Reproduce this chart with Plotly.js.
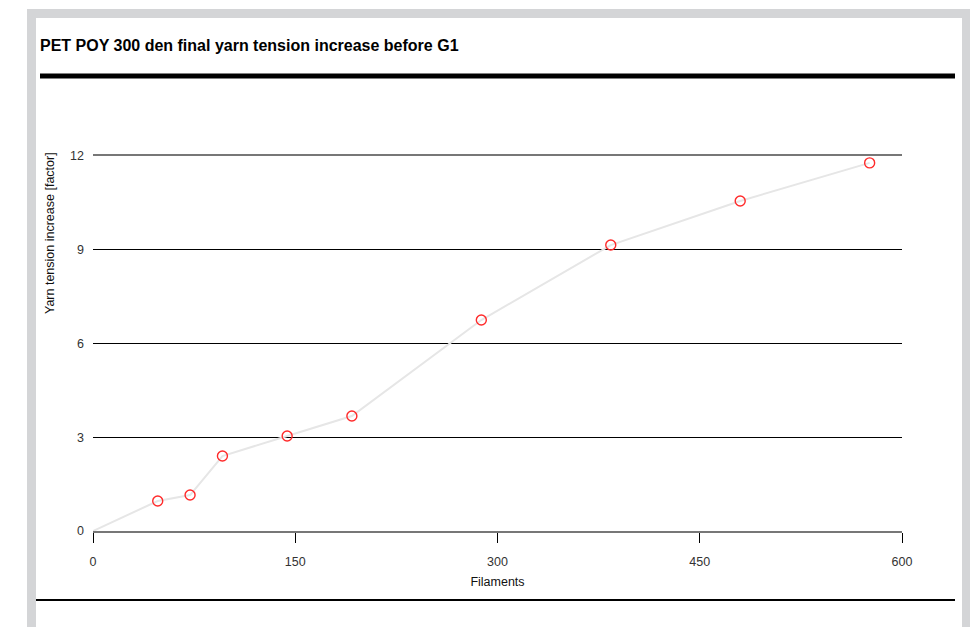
<!DOCTYPE html>
<html><head><meta charset="utf-8">
<script src="https://cdn.plot.ly/plotly-3.0.1.min.js"></script>
<style>html,body{margin:0;padding:0;background:#fff;}#chart{width:976px;height:627px;}</style>
</head><body><div id="chart"></div>
<script>
// Data
const filaments = [48, 72, 96, 144, 192, 288, 384, 480, 576];
const tensionIncrease = [0.96, 1.15, 2.4, 3.04, 3.68, 6.75, 9.15, 10.56, 11.78];
const originX = [0];
const originY = [0];
const xTicks = [0, 150, 300, 450, 600];
const yTicks = [0, 3, 6, 9, 12];
const titleText = 'PET POY 300 den final yarn tension increase before G1';
const xTitle = 'Filaments';
const yTitle = 'Yarn tension increase [factor]';

const W = 976, H = 627;
const M = {l: 93, r: 74, t: 156, b: 96};
const PW = W - M.l - M.r, PH = H - M.t - M.b;
const px = x => (x - M.l) / PW;
const py = y => (H - M.b - y) / PH;

const font = 'Helvetica Neue, Arial, Liberation Sans, sans-serif';

const traces = [
  {x: originX.concat(filaments), y: originY.concat(tensionIncrease), mode: 'lines',
   line: {color: '#e6e6e6', width: 2}, hoverinfo: 'skip', showlegend: false},
  {x: filaments, y: tensionIncrease, mode: 'markers',
   marker: {symbol: 'circle-open', size: 10, color: '#ff2a2a', line: {width: 1.4}},
   showlegend: false}
];

const shapes = [
  {type: 'rect', xref: 'paper', yref: 'paper', x0: px(27), x1: px(970), y0: py(640), y1: py(9),
   fillcolor: '#d4d5d7', line: {width: 0}, layer: 'below'},
  {type: 'rect', xref: 'paper', yref: 'paper', x0: px(36), x1: px(962), y0: py(640), y1: py(18),
   fillcolor: '#ffffff', line: {width: 0}, layer: 'below'},
  {type: 'line', xref: 'paper', yref: 'paper', x0: px(40), x1: px(955), y0: py(76), y1: py(76),
   line: {color: '#000', width: 5}},
  {type: 'line', xref: 'paper', yref: 'paper', x0: px(36), x1: px(955), y0: py(600), y1: py(600),
   line: {color: '#000', width: 2}}
];

const layout = {
  width: W, height: H,
  margin: M,
  paper_bgcolor: '#fff', plot_bgcolor: 'rgba(0,0,0,0)',
  font: {family: font, size: 12, color: '#333'},
  title: {text: '<b>' + titleText + '</b>', xref: 'container', yref: 'container',
          x: 40 / W, xanchor: 'left', y: 1 - 45 / H, yanchor: 'middle',
          font: {family: font, size: 16, color: '#000'}},
  xaxis: {range: [0, 600], tickvals: xTicks, ticktext: xTicks.map(String),
          showgrid: false, zeroline: false, showline: true, linecolor: '#777', linewidth: 2,
          mirror: true, ticks: 'outside', ticklen: 10, tickcolor: '#000', tickwidth: 1,
          ticklabelstandoff: 8,
          tickfont: {size: 12.5, color: '#333'},
          title: {text: xTitle, standoff: 9, font: {size: 12.5, color: '#111'}}},
  yaxis: {range: [0, 12], tickvals: yTicks, ticktext: yTicks.map(String),
          showgrid: true, gridcolor: '#000', gridwidth: 1, zeroline: false, showline: false,
          ticks: '', ticklabelstandoff: 8,
          tickfont: {size: 12.5, color: '#333'}},
  annotations: [
    {text: yTitle, textangle: -90, xref: 'paper', yref: 'paper',
     x: px(50), y: py(150), xanchor: 'center', yanchor: 'top', showarrow: false,
     font: {family: font, size: 12.5, color: '#111'}}
  ],
  shapes: shapes
};

Plotly.newPlot('chart', traces, layout, {displayModeBar: false, staticPlot: true});
</script></body></html>
